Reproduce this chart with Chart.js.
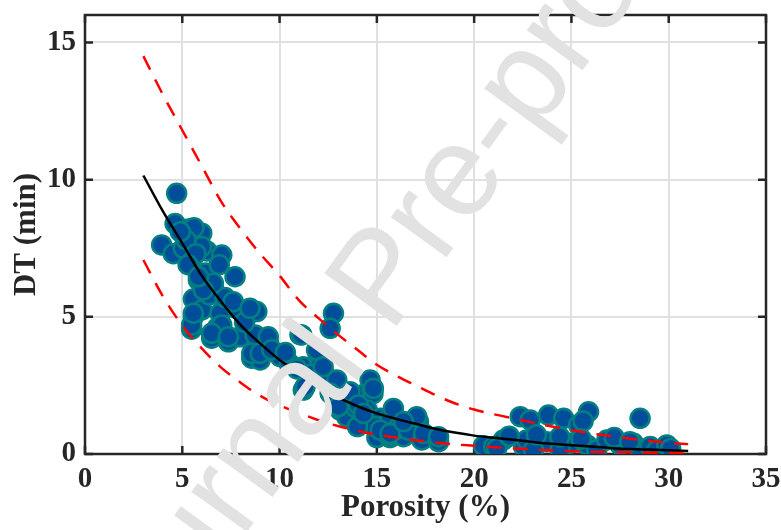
<!DOCTYPE html>
<html>
<head>
<meta charset="utf-8">
<script src="https://cdn.jsdelivr.net/npm/chart.js@4.4.1/dist/chart.umd.min.js"></script>
<style>
  html, body { margin: 0; padding: 0; background: #ffffff; }
  #wrap { width: 781px; height: 530px; position: relative; }
</style>
</head>
<body>
<div id="wrap"><canvas id="myChart"></canvas></div>
<script>
// measured samples (porosity %, DT min)
const porosity = [
  4.71, 4.63, 5.31, 6.0, 5.6, 3.94, 4.54, 5.05, 5.48, 6.26, 7.03, 6.0, 5.2, 4.9, 5.7,
  7.71, 5.83, 6.6, 5.57, 7.62, 6.0, 5.57, 5.48, 6.94, 8.48, 8.83, 6.51, 7.03, 7.37, 7.97,
  8.74, 9.42, 8.57, 9.0, 10.03, 11.05, 6.2, 6.4, 7.2, 7.8, 6.8, 8.2, 5.3, 6.9,
  6.6, 7.62, 8.48, 7.03, 6.51, 7.37, 8.57, 9.0, 9.42, 5.48, 5.57, 6.08, 5.83,
  12.77, 12.6, 11.14, 11.22, 12.0, 12.08, 12.34, 11.22, 12.94, 10.5, 10.9, 11.6, 11.9,
  12.24, 11.31, 9.6, 10.3,
  13.11, 13.71, 14.22, 14.74, 14.8, 14.22, 13.45, 15.0, 15.68, 15.85, 16.37, 13.9, 14.5,
  15.2, 15.68, 16.54, 17.14, 15.6, 16.37, 17.31, 18.17, 14.9, 16.0, 13.2, 14.0,
  12.6, 13.02, 13.62, 14.05, 14.65, 14.82, 14.31, 15.17, 15.68, 15.85, 16.62, 17.05,
  17.4, 18.17, 16.37,
  20.48, 21.0, 21.5, 21.16, 22.37, 22.88, 23.82, 24.6, 25.37, 25.88, 25.6, 28.53, 22.54,
  22.7, 23.73, 23.05, 24.94, 24.42, 25.8, 26.3, 26.82, 27.5, 28.19, 28.53, 29.05, 29.4,
  29.9, 30.1, 21.8, 23.2, 24.4, 25.5, 27.2, 28.0
];
const dtValues = [
  9.5, 8.4, 8.2, 8.05, 8.25, 7.62, 7.3, 7.5, 7.0, 7.4, 7.25, 7.56, 7.8, 8.1, 7.3,
  6.46, 6.34, 6.04, 5.65, 5.5, 5.25, 5.0, 4.55, 5.13, 5.13, 5.19, 4.22, 4.52, 4.09, 4.27,
  4.34, 4.09, 3.49, 3.43, 3.55, 4.35, 6.6, 5.8, 5.7, 5.3, 4.6, 4.8, 6.9, 6.9,
  6.22, 5.55, 5.31, 4.7, 4.4, 4.27, 3.67, 3.67, 4.27, 4.7, 5.13, 5.98, 6.46,
  5.13, 4.58, 4.34, 3.18, 3.55, 3.24, 2.88, 2.33, 2.7, 3.3, 3.1, 2.9, 3.79,
  3.18, 2.45, 3.8, 3.7,
  1.6, 2.09, 2.15, 2.45, 2.2, 1.24, 1.36, 0.6, 0.6, 1.42, 1.06, 1.7, 1.6,
  1.3, 1.36, 1.12, 1.18, 0.69, 0.63, 0.51, 0.45, 1.0, 0.9, 1.9, 1.0,
  2.22, 1.73, 2.27, 1.79, 2.7, 2.39, 1.48, 0.87, 0.75, 1.66, 0.87, 1.36,
  0.75, 0.63, 1.18,
  0.3, 0.27, 0.51, 0.2, 1.36, 1.24, 1.42, 1.3, 1.06, 1.54, 1.2, 1.3, 0.27,
  0.51, 0.45, 0.15, 0.39, 0.15, 0.33, 0.15, 0.51, 0.33, 0.39, 0.15, 0.27, 0.15,
  0.33, 0.2, 0.65, 0.7, 0.62, 0.55, 0.6, 0.45
];

// fitted curve and bounds, read at whole porosity values
const curveX = [3, 4, 5, 6, 7, 8, 9, 10, 11, 12, 13, 14, 15, 16, 17, 18, 19, 20, 21, 22, 23, 24, 25, 26, 27, 28, 29, 30, 31];
const fitY = [10.15, 8.85, 7.68, 6.5, 5.55, 4.7, 4.03, 3.43, 2.97, 2.51, 2.07, 1.74, 1.48, 1.28, 1.1, 0.92, 0.78, 0.67, 0.59, 0.52, 0.44, 0.37, 0.32, 0.27, 0.22, 0.18, 0.16, 0.14, 0.11];
const upperY = [14.5, 13.1, 11.8, 10.5, 9.2, 8.2, 7.3, 6.5, 5.6, 4.95, 4.35, 3.8, 3.25, 2.85, 2.5, 2.15, 1.85, 1.62, 1.45, 1.3, 1.15, 1.0, 0.87, 0.75, 0.66, 0.56, 0.48, 0.41, 0.36];
const lowerY = [7.07, 5.75, 4.68, 3.85, 3.15, 2.6, 2.12, 1.77, 1.5, 1.23, 1.02, 0.85, 0.7, 0.6, 0.5, 0.42, 0.35, 0.3, 0.25, 0.21, 0.17, 0.13, 0.1, 0.08, 0.07, 0.06, 0.05, 0.04, 0.03];

const axisColor = "#262626";
const serif = '"Liberation Serif", "Times New Roman", serif';

const toPoints = (xs, ys) => xs.map((x, i) => ({ x: x, y: ys[i] }));

// box round the plot with inward tick marks
const BoxPlugin = {
  id: "boxTicks",
  beforeDatasetsDraw(chart) {
    const { ctx, chartArea: a, scales } = chart;
    ctx.save();
    ctx.strokeStyle = axisColor;
    ctx.lineWidth = 2.5;
    ctx.strokeRect(a.left, a.top, a.right - a.left, a.bottom - a.top);
    const len = 8;
    ctx.beginPath();
    scales.x.ticks.forEach((t) => {
      const px = scales.x.getPixelForValue(t.value);
      ctx.moveTo(px, a.bottom);
      ctx.lineTo(px, a.bottom - len);
      ctx.moveTo(px, a.top);
      ctx.lineTo(px, a.top + len);
    });
    scales.y.ticks.forEach((t) => {
      const py = scales.y.getPixelForValue(t.value);
      ctx.moveTo(a.left, py);
      ctx.lineTo(a.left + len, py);
      ctx.moveTo(a.right, py);
      ctx.lineTo(a.right - len, py);
    });
    ctx.stroke();
    ctx.restore();
  }
};

// grey "Journal Pre-proof" stamp across the figure
const StampPlugin = {
  id: "stamp",
  afterDraw(chart) {
    const ctx = chart.ctx;
    const size = 130;
    ctx.save();
    ctx.font = size + 'px "Liberation Sans", Arial, sans-serif';
    ctx.fillStyle = "#e2e2e2";
    ctx.textBaseline = "alphabetic";
    ctx.translate(378, 272);
    ctx.rotate(-54 * Math.PI / 180);
    const shift = ctx.measureText("Journal ").width + ctx.measureText("P").width / 2;
    ctx.fillText("Journal Pre-proof", -shift, 0.36 * size);
    ctx.restore();
  }
};

const data = {
  datasets: [
    {
      label: "Upper bound",
      type: "line",
      data: toPoints(curveX, upperY),
      borderColor: "#ff0000",
      borderWidth: 2.5,
      borderDash: [15, 11],
      pointRadius: 0,
      fill: false,
      cubicInterpolationMode: "monotone",
      order: 1
    },
    {
      label: "Lower bound",
      type: "line",
      data: toPoints(curveX, lowerY),
      borderColor: "#ff0000",
      borderWidth: 2.5,
      borderDash: [15, 11],
      pointRadius: 0,
      fill: false,
      cubicInterpolationMode: "monotone",
      order: 1
    },
    {
      label: "Fit",
      type: "line",
      data: toPoints(curveX, fitY),
      borderColor: "#000000",
      borderWidth: 2.5,
      pointRadius: 0,
      fill: false,
      cubicInterpolationMode: "monotone",
      order: 2
    },
    {
      label: "Samples",
      type: "scatter",
      data: toPoints(porosity, dtValues),
      backgroundColor: "#004d99",
      borderColor: "#008080",
      borderWidth: 2.5,
      pointRadius: 9.5,
      order: 3
    }
  ]
};

const config = {
  type: "scatter",
  data: data,
  plugins: [BoxPlugin, StampPlugin],
  options: {
    responsive: true,
    maintainAspectRatio: false,
    animation: false,
    events: [],
    layout: { autoPadding: false, padding: { left: 0, top: 15, right: 15, bottom: 0 } },
    plugins: {
      legend: { display: false },
      tooltip: { enabled: false }
    },
    scales: {
      x: {
        type: "linear",
        min: 0,
        max: 35,
        afterFit: (s) => {
          s.height = 76;
          s.paddingLeft = 0;
          s.paddingRight = 0;
        },
        border: { display: false },
        grid: { color: "#e0e0e0", lineWidth: 2, drawTicks: false },
        ticks: {
          stepSize: 5,
          padding: 8,
          color: axisColor,
          font: { family: serif, size: 29, weight: "bold" }
        },
        title: {
          display: true,
          text: "Porosity (%)",
          color: axisColor,
          padding: { top: 0, bottom: 3 },
          font: { family: serif, size: 31, weight: "bold" }
        }
      },
      y: {
        type: "linear",
        min: 0,
        max: 16,
        afterFit: (s) => {
          s.width = 85;
          s.paddingTop = 0;
          s.paddingBottom = 0;
        },
        border: { display: false },
        grid: { color: "#e0e0e0", lineWidth: 2, drawTicks: false },
        ticks: {
          stepSize: 5,
          includeBounds: false,
          padding: 9,
          color: axisColor,
          font: { family: serif, size: 29, weight: "bold" }
        },
        title: {
          display: true,
          text: "DT (min)",
          color: axisColor,
          padding: { top: 8, bottom: 0 },
          font: { family: serif, size: 31, weight: "bold" }
        }
      }
    }
  }
};

const ctx = document.getElementById("myChart");
const myChart = new Chart(ctx, config);
</script>
</body>
</html>
